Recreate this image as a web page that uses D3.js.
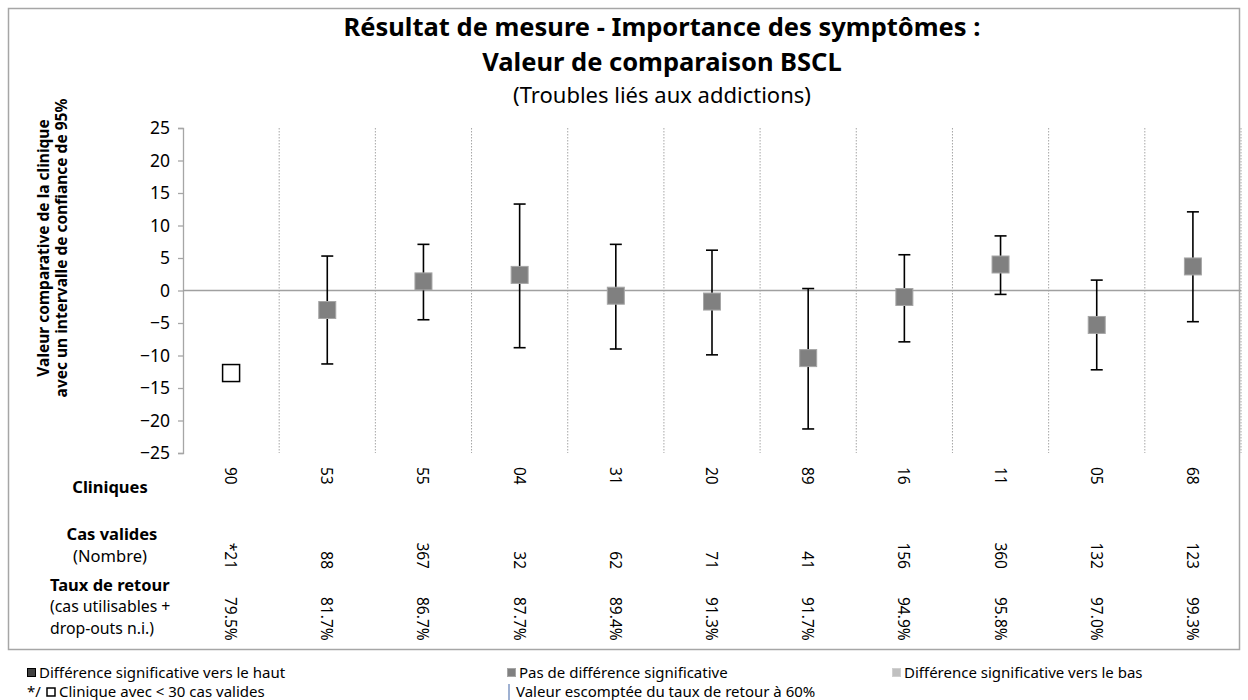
<!DOCTYPE html>
<html><head><meta charset="utf-8">
<script src="https://cdn.jsdelivr.net/npm/d3@7"></script>
<style>
html,body{margin:0;padding:0;background:#fff;}
svg text{font-family:"Noto Sans","Open Sans",sans-serif;fill:#000;}
</style></head>
<body><svg id="c" width="1248" height="700"></svg>
<script>
// ---- data ----
const clinics = ["90","53","55","04","31","20","89","16","11","05","68"];
const validCases = ["*21","88","367","32","62","71","41","156","360","132","123"];
const returnRates = ["79.5%","81.7%","86.7%","87.7%","89.4%","91.3%","91.7%","94.9%","95.8%","97.0%","99.3%"];
const values = [-12.7, -3.0, 1.4, 2.4, -0.8, -1.7, -10.4, -1.0, 4.0, -5.3, 3.7];
const lowerCI = [null, -11.3, -4.5, -8.8, -9.0, -9.9, -21.3, -7.9, -0.6, -12.2, -4.8];
const upperCI = [null, 5.3, 7.1, 13.3, 7.1, 6.2, 0.3, 5.5, 8.4, 1.6, 12.1];
const status = ["small","none","none","none","none","none","none","none","none","none","none"];
const yTicks = [25,20,15,10,5,0,-5,-10,-15,-20,-25];

const svg = d3.select("#c");
const pL = 183, pR = 1241, pT = 128, pB = 453;

// outer frame
svg.append("rect").attr("x",8.5).attr("y",8.5).attr("width",1231).attr("height",641)
  .attr("fill","none").attr("stroke","#a6a6a6").attr("stroke-width",1.5);

// titles
const cx = 662;
svg.append("text").attr("x",cx).attr("y",36).attr("text-anchor","middle")
  .style("font-size","25.5px").style("font-weight","bold").text("Résultat de mesure - Importance des symptômes :");
svg.append("text").attr("x",cx).attr("y",71).attr("text-anchor","middle")
  .style("font-size","25.5px").style("font-weight","bold").text("Valeur de comparaison BSCL");
svg.append("text").attr("x",cx).attr("y",103).attr("text-anchor","middle")
  .style("font-size","22px").text("(Troubles liés aux addictions)");

// scales
const x = d3.scaleBand().domain(clinics).range([pL,pR]).paddingInner(0).paddingOuter(0);
const y = d3.scaleLinear().domain([-25,25]).range([pB,pT]);

// vertical dotted separators
svg.append("g").selectAll("line").data(clinics).join("line")
  .attr("x1",d=>x(d)+x.bandwidth()).attr("x2",d=>x(d)+x.bandwidth())
  .attr("y1",pT).attr("y2",pB)
  .attr("stroke","#a6a6a6").attr("stroke-width",1).attr("stroke-dasharray","1.5,1.5");

// y axis
const yAxis = d3.axisLeft(y).tickValues(yTicks).tickSize(5).tickPadding(8).tickFormat(d3.format("d"));
const ga = svg.append("g").attr("transform",`translate(${pL},0)`).call(yAxis);
ga.select(".domain").attr("stroke","#a6a6a6").attr("stroke-width",1.3);
ga.selectAll(".tick line").attr("stroke","#a6a6a6").attr("stroke-width",1.3);
ga.selectAll(".tick text").style("font-size","17.5px").style("font-family","'Noto Sans',sans-serif").attr("fill","#000");

// zero line
svg.append("line").attr("x1",pL).attr("x2",pR).attr("y1",y(0)).attr("y2",y(0))
  .attr("stroke","#a0a0a0").attr("stroke-width",1.5);

// y axis title
const yt = svg.append("text").attr("transform","translate(0,248) rotate(-90)")
  .attr("text-anchor","middle").style("font-size","15.5px").style("font-weight","bold");
yt.append("tspan").attr("x",0).attr("y",49).text("Valeur comparative de la clinique");
yt.append("tspan").attr("x",0).attr("y",67).text("avec un intervalle de confiance de 95%");

// error bars
const idx = d3.range(clinics.length).filter(i=>lowerCI[i]!==null);
const cap = 6;
const eb = svg.append("g").attr("stroke","#000").attr("stroke-width",1.6);
eb.selectAll("line.v").data(idx).join("line").attr("class","v")
  .attr("x1",i=>x(clinics[i])+x.bandwidth()/2).attr("x2",i=>x(clinics[i])+x.bandwidth()/2)
  .attr("y1",i=>y(upperCI[i])).attr("y2",i=>y(lowerCI[i]));
eb.selectAll("line.u").data(idx).join("line").attr("class","u")
  .attr("x1",i=>x(clinics[i])+x.bandwidth()/2-cap).attr("x2",i=>x(clinics[i])+x.bandwidth()/2+cap)
  .attr("y1",i=>y(upperCI[i])).attr("y2",i=>y(upperCI[i]));
eb.selectAll("line.l").data(idx).join("line").attr("class","l")
  .attr("x1",i=>x(clinics[i])+x.bandwidth()/2-cap).attr("x2",i=>x(clinics[i])+x.bandwidth()/2+cap)
  .attr("y1",i=>y(lowerCI[i])).attr("y2",i=>y(lowerCI[i]));

// markers
const ms = 17;
svg.append("g").selectAll("rect").data(d3.range(clinics.length)).join("rect")
  .attr("x",i=>x(clinics[i])+x.bandwidth()/2-ms/2).attr("y",i=>y(values[i])-ms/2)
  .attr("width",ms).attr("height",ms)
  .attr("fill",i=>status[i]==="small"?"#fff":"#808080")
  .attr("stroke",i=>status[i]==="small"?"#000":"#a6a6a6")
  .attr("stroke-width",i=>status[i]==="small"?1.5:1);

// bottom rows
const rowFont = "15.5px";
const rot = (sel, yy, anchor) => sel.attr("transform",(d,i)=>`translate(${x(clinics[i])+x.bandwidth()/2},${yy}) rotate(90)`)
  .attr("text-anchor",anchor).attr("dominant-baseline","central").style("font-size",rowFont);
rot(svg.append("g").selectAll("text").data(clinics).join("text").text(d=>d), 467, "start");
rot(svg.append("g").selectAll("text").data(validCases).join("text").text(d=>d), 569, "end");
rot(svg.append("g").selectAll("text").data(returnRates).join("text").text(d=>d), 597, "start");

// row headers
const hdr = (t, xx, yy, bold, anchor, fs) => svg.append("text").attr("x",xx).attr("y",yy)
  .attr("text-anchor",anchor).style("font-size",fs||"16.5px").style("font-weight",bold?"bold":"normal").text(t);
hdr("Cliniques",110,493,true,"middle");
hdr("Cas valides",112,540,true,"middle");
hdr("(Nombre)",110,562,false,"middle");
hdr("Taux de retour",50,591,true,"start");
hdr("(cas utilisables +",50,612,false,"start","15.8px");
hdr("drop-outs n.i.)",50,633.5,false,"start","15.8px");

// legend
const legItems = [
  {x:27,y:673,sym:"sq",fill:"#404040",stroke:"#000",text:"Différence significative vers le haut"},
  {x:507,y:673,sym:"sq",fill:"#808080",stroke:"#a6a6a6",text:"Pas de différence significative"},
  {x:892,y:673,sym:"sq",fill:"#c0c0c0",stroke:"#d0d0d0",text:"Différence significative vers le bas"},
  {x:27,y:692,sym:"small",text:"Clinique avec < 30 cas valides"},
  {x:507,y:692,sym:"bar",text:"Valeur escomptée du taux de retour à 60%"}
];
const lg = svg.append("g");
const lf = "15px";
legItems.forEach(it=>{
  let tx = it.x+12;
  if(it.sym==="sq"){
    lg.append("rect").attr("x",it.x+0.5).attr("y",it.y-4.5).attr("width",8).attr("height",8)
      .attr("fill",it.fill).attr("stroke",it.stroke).attr("stroke-width",1);
  } else if(it.sym==="small"){
    lg.append("text").attr("x",it.x).attr("y",it.y+5).style("font-size",lf).text("*/");
    lg.append("rect").attr("x",it.x+20).attr("y",it.y-4).attr("width",8).attr("height",8)
      .attr("fill","#fff").attr("stroke","#000").attr("stroke-width",1.5);
    tx = it.x+32;
  } else {
    lg.append("line").attr("x1",it.x+2).attr("x2",it.x+2).attr("y1",it.y-8).attr("y2",it.y+8)
      .attr("stroke","#9fb1d2").attr("stroke-width",2);
    tx = it.x+9;
  }
  lg.append("text").attr("x",tx).attr("y",it.y+5).style("font-size",lf).text(it.text);
});
</script></body></html>
